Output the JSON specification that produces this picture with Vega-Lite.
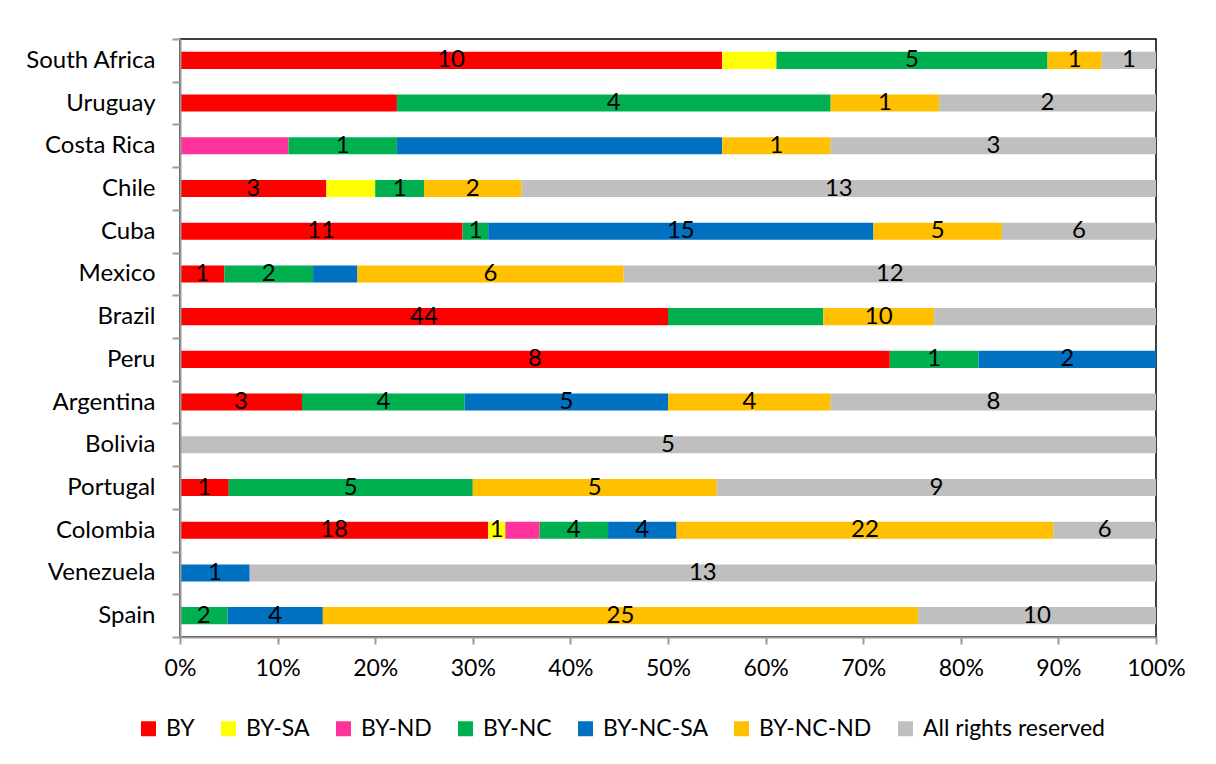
{
  "$schema": "https://vega.github.io/schema/vega-lite/v6.json",
  "width": 976,
  "height": 598,
  "padding": {"left": 24, "top": 27, "right": 40, "bottom": 5},
  "background": "white",
  "config": {
    "font": "Lato",
    "view": {"stroke": "black", "strokeWidth": 1.5}
  },
  "data": {
    "values": [
      {"country": "South Africa", "license": "BY", "k": 1, "n": 10, "label": "10"},
      {"country": "South Africa", "license": "BY-SA", "k": 2, "n": 1, "label": ""},
      {"country": "South Africa", "license": "BY-NC", "k": 4, "n": 5, "label": "5"},
      {"country": "South Africa", "license": "BY-NC-ND", "k": 6, "n": 1, "label": "1"},
      {"country": "South Africa", "license": "All rights reserved", "k": 7, "n": 1, "label": "1"},
      {"country": "Uruguay", "license": "BY", "k": 1, "n": 2, "label": ""},
      {"country": "Uruguay", "license": "BY-NC", "k": 4, "n": 4, "label": "4"},
      {"country": "Uruguay", "license": "BY-NC-ND", "k": 6, "n": 1, "label": "1"},
      {"country": "Uruguay", "license": "All rights reserved", "k": 7, "n": 2, "label": "2"},
      {"country": "Costa Rica", "license": "BY-ND", "k": 3, "n": 1, "label": ""},
      {"country": "Costa Rica", "license": "BY-NC", "k": 4, "n": 1, "label": "1"},
      {"country": "Costa Rica", "license": "BY-NC-SA", "k": 5, "n": 3, "label": ""},
      {"country": "Costa Rica", "license": "BY-NC-ND", "k": 6, "n": 1, "label": "1"},
      {"country": "Costa Rica", "license": "All rights reserved", "k": 7, "n": 3, "label": "3"},
      {"country": "Chile", "license": "BY", "k": 1, "n": 3, "label": "3"},
      {"country": "Chile", "license": "BY-SA", "k": 2, "n": 1, "label": ""},
      {"country": "Chile", "license": "BY-NC", "k": 4, "n": 1, "label": "1"},
      {"country": "Chile", "license": "BY-NC-ND", "k": 6, "n": 2, "label": "2"},
      {"country": "Chile", "license": "All rights reserved", "k": 7, "n": 13, "label": "13"},
      {"country": "Cuba", "license": "BY", "k": 1, "n": 11, "label": "11"},
      {"country": "Cuba", "license": "BY-NC", "k": 4, "n": 1, "label": "1"},
      {"country": "Cuba", "license": "BY-NC-SA", "k": 5, "n": 15, "label": "15"},
      {"country": "Cuba", "license": "BY-NC-ND", "k": 6, "n": 5, "label": "5"},
      {"country": "Cuba", "license": "All rights reserved", "k": 7, "n": 6, "label": "6"},
      {"country": "Mexico", "license": "BY", "k": 1, "n": 1, "label": "1"},
      {"country": "Mexico", "license": "BY-NC", "k": 4, "n": 2, "label": "2"},
      {"country": "Mexico", "license": "BY-NC-SA", "k": 5, "n": 1, "label": ""},
      {"country": "Mexico", "license": "BY-NC-ND", "k": 6, "n": 6, "label": "6"},
      {"country": "Mexico", "license": "All rights reserved", "k": 7, "n": 12, "label": "12"},
      {"country": "Brazil", "license": "BY", "k": 1, "n": 44, "label": "44"},
      {"country": "Brazil", "license": "BY-NC", "k": 4, "n": 14, "label": ""},
      {"country": "Brazil", "license": "BY-NC-ND", "k": 6, "n": 10, "label": "10"},
      {"country": "Brazil", "license": "All rights reserved", "k": 7, "n": 20, "label": ""},
      {"country": "Peru", "license": "BY", "k": 1, "n": 8, "label": "8"},
      {"country": "Peru", "license": "BY-NC", "k": 4, "n": 1, "label": "1"},
      {"country": "Peru", "license": "BY-NC-SA", "k": 5, "n": 2, "label": "2"},
      {"country": "Argentina", "license": "BY", "k": 1, "n": 3, "label": "3"},
      {"country": "Argentina", "license": "BY-NC", "k": 4, "n": 4, "label": "4"},
      {"country": "Argentina", "license": "BY-NC-SA", "k": 5, "n": 5, "label": "5"},
      {"country": "Argentina", "license": "BY-NC-ND", "k": 6, "n": 4, "label": "4"},
      {"country": "Argentina", "license": "All rights reserved", "k": 7, "n": 8, "label": "8"},
      {"country": "Bolivia", "license": "All rights reserved", "k": 7, "n": 5, "label": "5"},
      {"country": "Portugal", "license": "BY", "k": 1, "n": 1, "label": "1"},
      {"country": "Portugal", "license": "BY-NC", "k": 4, "n": 5, "label": "5"},
      {"country": "Portugal", "license": "BY-NC-ND", "k": 6, "n": 5, "label": "5"},
      {"country": "Portugal", "license": "All rights reserved", "k": 7, "n": 9, "label": "9"},
      {"country": "Colombia", "license": "BY", "k": 1, "n": 18, "label": "18"},
      {"country": "Colombia", "license": "BY-SA", "k": 2, "n": 1, "label": "1"},
      {"country": "Colombia", "license": "BY-ND", "k": 3, "n": 2, "label": ""},
      {"country": "Colombia", "license": "BY-NC", "k": 4, "n": 4, "label": "4"},
      {"country": "Colombia", "license": "BY-NC-SA", "k": 5, "n": 4, "label": "4"},
      {"country": "Colombia", "license": "BY-NC-ND", "k": 6, "n": 22, "label": "22"},
      {"country": "Colombia", "license": "All rights reserved", "k": 7, "n": 6, "label": "6"},
      {"country": "Venezuela", "license": "BY-NC-SA", "k": 5, "n": 1, "label": "1"},
      {"country": "Venezuela", "license": "All rights reserved", "k": 7, "n": 13, "label": "13"},
      {"country": "Spain", "license": "BY-NC", "k": 4, "n": 2, "label": "2"},
      {"country": "Spain", "license": "BY-NC-SA", "k": 5, "n": 4, "label": "4"},
      {"country": "Spain", "license": "BY-NC-ND", "k": 6, "n": 25, "label": "25"},
      {"country": "Spain", "license": "All rights reserved", "k": 7, "n": 10, "label": "10"}
    ]
  },
  "encoding": {
    "y": {
      "field": "country",
      "type": "nominal",
      "sort": ["South Africa", "Uruguay", "Costa Rica", "Chile", "Cuba", "Mexico", "Brazil", "Peru", "Argentina", "Bolivia", "Portugal", "Colombia", "Venezuela", "Spain"],
      "title": null,
      "scale": {"paddingInner": 0, "paddingOuter": 0},
      "axis": {
        "domainColor": "#9a9a9a",
        "domainWidth": 2,
        "tickColor": "#9a9a9a",
        "tickWidth": 2,
        "tickSize": 8,
        "tickBand": "extent",
        "labelFontSize": 24,
        "labelColor": "black",
        "labelPadding": 17,
        "zindex": 1
      }
    },
    "x": {
      "field": "n",
      "type": "quantitative",
      "stack": "normalize",
      "title": null,
      "scale": {"domain": [0, 1], "nice": false},
      "axis": {
        "format": "%",
        "values": [0, 0.1, 0.2, 0.3, 0.4, 0.5, 0.6, 0.7, 0.8, 0.9, 1],
        "grid": false,
        "domainColor": "#9a9a9a",
        "domainWidth": 2,
        "tickColor": "#9a9a9a",
        "tickWidth": 2,
        "tickSize": 7,
        "labelFontSize": 23,
        "labelColor": "black",
        "labelPadding": 13,
        "labelFlush": false,
        "zindex": 1
      }
    },
    "order": {"field": "k", "type": "quantitative"}
  },
  "layer": [
    {
      "mark": {"type": "bar", "height": {"band": 0.4}},
      "encoding": {
        "color": {
          "field": "license",
          "type": "nominal",
          "scale": {
            "domain": ["BY", "BY-SA", "BY-ND", "BY-NC", "BY-NC-SA", "BY-NC-ND", "All rights reserved"],
            "range": ["#FF0000", "#FFFF00", "#FF3399", "#00B050", "#0070C0", "#FFC000", "#BFBFBF"]
          },
          "legend": {
            "orient": "none",
            "legendX": -43,
            "legendY": 678,
            "direction": "horizontal",
            "title": null,
            "symbolType": "square",
            "symbolSize": 225,
            "symbolStrokeWidth": 0,
            "labelFontSize": 23,
            "labelLimit": 400,
            "labelColor": "black",
            "labelOffset": 6,
            "columnPadding": 22
          }
        }
      }
    },
    {
      "mark": {"type": "text", "fontSize": 24, "baseline": "middle", "color": "black"},
      "encoding": {
        "detail": {"field": "license", "type": "nominal"},
        "x": {"field": "n", "type": "quantitative", "stack": "normalize", "bandPosition": 0.5},
        "text": {"field": "label", "type": "nominal"}
      }
    }
  ]
}
